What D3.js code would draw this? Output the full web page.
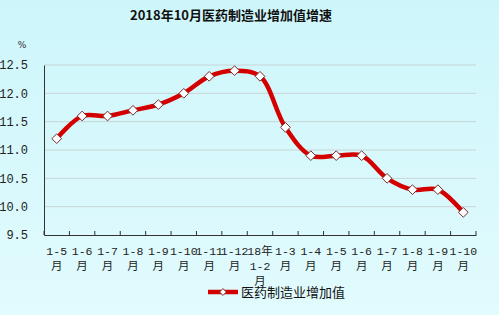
<!DOCTYPE html>
<html>
<head>
<meta charset="utf-8">
<script src="https://cdn.jsdelivr.net/npm/d3@7"></script>
<style>
  html, body { margin: 0; padding: 0; }
  body { width: 499px; height: 315px; overflow: hidden; }
</style>
</head>
<body>
<div class="svg-div"></div>
<script>
let months = ["1-5\n月", "1-6\n月", "1-7\n月", "1-8\n月", "1-9\n月", "1-10\n月", "1-11\n月", "1-12\n月",
  "18年\n1-2\n月", "1-3\n月", "1-4\n月", "1-5\n月", "1-6\n月", "1-7\n月", "1-8\n月", "1-9\n月", "1-10\n月"];
let growth = [11.2, 11.6, 11.6, 11.7, 11.8, 12.0, 12.3, 12.4, 12.3, 11.4, 10.9, 10.9, 10.9, 10.5, 10.3, 10.3, 9.9];
let yTicks = [9.5, 10.0, 10.5, 11.0, 11.5, 12.0, 12.5];
let seriesName = "医药制造业增加值";
let title = "2018年10月医药制造业增加值增速";

let svgWidth = 499, svgHeight = 315;
let margin = {top: 65, right: 23, bottom: 80, left: 44};
let width = svgWidth - margin.left - margin.right;
let height = svgHeight - margin.top - margin.bottom;

let svg = d3.select(".svg-div").append("svg")
  .attr("width", svgWidth)
  .attr("height", svgHeight);

let defs = svg.append("defs");
let grad = defs.append("linearGradient").attr("id", "bg")
  .attr("x1", 0).attr("y1", 0).attr("x2", 0).attr("y2", 1);
grad.append("stop").attr("offset", "0%").attr("stop-color", "#cdf6fb");
grad.append("stop").attr("offset", "100%").attr("stop-color", "#e2fbfd");

svg.append("rect").attr("width", svgWidth).attr("height", svgHeight).attr("fill", "url(#bg)");

svg.append("text")
  .attr("x", 231).attr("y", 20)
  .attr("text-anchor", "middle")
  .style("font-family", "'Noto Sans CJK SC', sans-serif")
  .style("font-weight", "bold")
  .style("font-size", "13px")
  .style("fill", "#111")
  .text(title);

svg.append("text")
  .attr("x", 22).attr("y", 48)
  .attr("text-anchor", "middle")
  .style("font-family", "'DejaVu Serif', serif")
  .style("font-size", "9px")
  .style("fill", "#222")
  .text("%");

let x = d3.scaleBand().domain(d3.range(months.length)).range([0, width]);
let y = d3.scaleLinear().domain([9.5, 12.5]).range([height, 0]);

let g = svg.append("g")
  .attr("transform", "translate(" + margin.left + "," + margin.top + ")");

// gridlines
g.selectAll(".grid")
  .data(yTicks.slice(1))
  .enter().append("line")
  .attr("class", "grid")
  .attr("x1", 0).attr("x2", width)
  .attr("y1", d => y(d)).attr("y2", d => y(d))
  .style("stroke", "#c8d4d6")
  .style("stroke-width", 1);

// y axis
let yAxis = g.append("g")
  .call(d3.axisLeft(y).tickValues(yTicks).tickFormat(d3.format(".1f")).tickSize(0).tickPadding(16));
yAxis.select(".domain").style("stroke", "#333");
yAxis.selectAll("text")
  .style("font-family", "'Liberation Mono', monospace")
  .style("font-size", "12px")
  .style("fill", "#222");

// x axis
let xAxis = g.append("g")
  .attr("transform", "translate(0," + height + ")")
  .call(d3.axisBottom(x).tickSize(0).tickFormat(""));
xAxis.select(".domain").style("stroke", "#333");
g.selectAll(".xtick")
  .data(d3.range(months.length + 1))
  .enter().append("line")
  .attr("class", "xtick")
  .attr("x1", d => d * x.step()).attr("x2", d => d * x.step())
  .attr("y1", height).attr("y2", height - 4)
  .style("stroke", "#333");

let labels = g.selectAll(".xlabel")
  .data(months)
  .enter().append("text")
  .attr("class", "xlabel")
  .attr("text-anchor", "middle")
  .attr("transform", (d, i) => "translate(" + (x(i) + x.bandwidth() / 2) + "," + (height + 20) + ")")
  .style("font-family", "'Liberation Mono', 'Noto Sans CJK SC', monospace")
  .style("font-size", "11.5px")
  .style("fill", "#222");
labels.each(function (d) {
  let t = d3.select(this);
  d.split("\n").forEach((s, k) => {
    t.append("tspan").attr("x", 0).attr("y", k * 15).text(s)
      .style("font-family", /月|年/.test(s) && s.length === 1 ? "'Noto Sans CJK SC', sans-serif" : null);
  });
});

let line = d3.line()
  .x((d, i) => x(i) + x.bandwidth() / 2)
  .y(d => y(d))
  .curve(d3.curveCatmullRom.alpha(0.5));

g.append("path")
  .datum(growth)
  .attr("d", line)
  .style("fill", "none")
  .style("stroke", "#d40000")
  .style("stroke-width", 4.5);

let diamond = d3.symbol().type(d3.symbolDiamond2).size(60);
g.selectAll(".pt")
  .data(growth)
  .enter().append("path")
  .attr("class", "pt")
  .attr("d", diamond)
  .attr("transform", (d, i) => "translate(" + (x(i) + x.bandwidth() / 2) + "," + y(d) + ") rotate(0)")
  .style("fill", "#fff")
  .style("stroke", "#7a2a2a")
  .style("stroke-width", 1);

// legend
let lg = svg.append("g").attr("transform", "translate(208,292)");
lg.append("line").attr("x1", 0).attr("x2", 30).attr("y1", 0).attr("y2", 0)
  .style("stroke", "#d40000").style("stroke-width", 4.5);
lg.append("path").attr("d", d3.symbol().type(d3.symbolDiamond2).size(30))
  .attr("transform", "translate(15,0)")
  .style("fill", "#fff").style("stroke", "#7a2a2a");
lg.append("text").attr("x", 33).attr("y", 5)
  .style("font-family", "'Noto Sans CJK SC', sans-serif")
  .style("font-size", "13px")
  .style("fill", "#111")
  .text(seriesName);
</script>
</body>
</html>
